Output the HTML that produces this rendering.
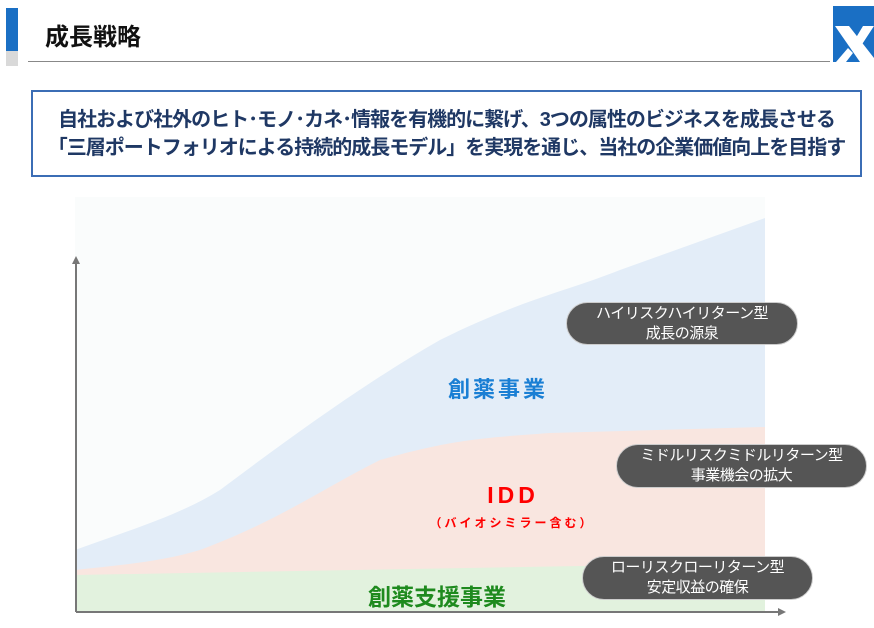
<!DOCTYPE html>
<html><head><meta charset="utf-8"><style>
body{margin:0;width:874px;height:628px;background:#fff;position:relative;overflow:hidden;font-family:"Liberation Sans","Noto Sans CJK JP",sans-serif}
.a{position:absolute}
.pill{position:absolute;background:#555;color:#fff;border-radius:22px;text-align:center;font-size:15px;line-height:20px;border:1px solid #ccc;box-sizing:border-box;padding-top:1px;letter-spacing:-0.5px}
.lines{position:absolute;left:31px;top:90px;width:831px;height:87px;border:2px solid #3b6db5;box-sizing:border-box;text-align:center;font-weight:bold;color:#1f3864;font-size:20px;line-height:28px;padding-top:14px;letter-spacing:-1px;white-space:nowrap}
</style></head><body>
<div class="a" style="left:6px;top:8px;width:12px;height:43px;background:#1a6fc4"></div>
<div class="a" style="left:6px;top:51px;width:12px;height:15px;background:#d9d9d9"></div>
<div class="a" style="left:45px;top:17px;font-size:24px;font-weight:bold;color:#111">成長戦略</div>
<div class="a" style="left:28px;top:61px;width:802px;height:1px;background:#888"></div>
<svg class="a" style="left:833px;top:6px" width="41" height="56"><rect width="41" height="56" fill="#1a6fc4"/><path d="M2 20 L16 20 L41 52 L41 56 L27 56 Z" fill="#fff"/><path d="M41 20 L30 20 L18 40 L24 46 Z M3 56 L13 56 L20 47 L15 42 Z" fill="#fff"/></svg>
<div class="lines">自社および社外のヒト･モノ･カネ･情報を有機的に繋げ、3つの属性のビジネスを成長させる<br>「三層ポートフォリオによる持続的成長モデル」を実現を通じ、当社の企業価値向上を目指す</div>
<svg class="a" style="left:0;top:0" width="874" height="628">
<rect x="75" y="197" width="690" height="415" fill="#fafcfc"/>
<path d="M75 550 C130 530 180 515 220 490 C300 430 370 380 440 340 C520 300 570 290 620 270 L765 218 L765 612 L75 612 Z" fill="#e3edf8"/>
<path d="M75 570 C120 565 160 562 200 550 C280 520 320 490 380 460 C450 440 480 438 550 433 L765 427 L765 612 L75 612 Z" fill="#f9e6e0"/>
<path d="M75 575 L580 566 L765 566 L765 612 L75 612 Z" fill="#e2f2de"/>
<line x1="76" y1="612" x2="76" y2="262" stroke="#777" stroke-width="2"/>
<path d="M72 264 L76 256 L80 264 Z" fill="#777"/>
<line x1="76" y1="612" x2="780" y2="612" stroke="#777" stroke-width="2"/>
<path d="M778 608 L786 612 L778 616 Z" fill="#777"/>
</svg>
<div class="pill" style="left:566px;top:302px;width:232px;height:43px">ハイリスクハイリターン型<br>成長の源泉</div>
<div class="pill" style="left:616px;top:444px;width:251px;height:44px">ミドルリスクミドルリターン型<br>事業機会の拡大</div>
<div class="pill" style="left:582px;top:556px;width:231px;height:44px">ローリスクローリターン型<br>安定収益の確保</div>
<div class="a" style="left:430px;top:372px;width:136px;text-align:center;font-size:22px;font-weight:bold;color:#1a7fd4;letter-spacing:3px">創薬事業</div>
<div class="a" style="left:456px;top:482px;width:114px;text-align:center;font-size:23px;font-weight:bold;color:#f00;letter-spacing:4px">IDD</div>
<div class="a" style="left:400px;top:514px;width:224px;text-align:center;font-size:12px;font-weight:bold;color:#f00;letter-spacing:3px">（バイオシミラー含む）</div>
<div class="a" style="left:350px;top:578px;width:174px;text-align:center;font-size:23px;font-weight:bold;color:#1e8a1e">創薬支援事業</div>
</body></html>
